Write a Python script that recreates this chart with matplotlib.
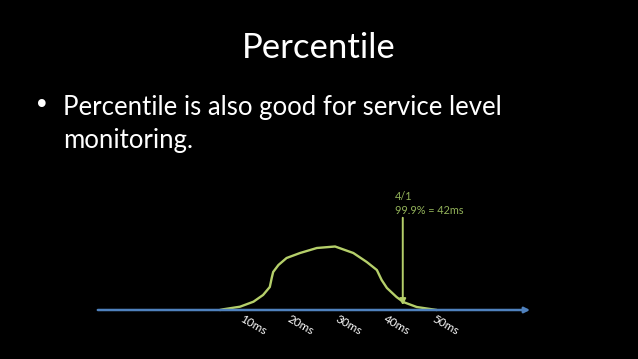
import matplotlib.pyplot as plt

# Datos
tick_ms = [10, 20, 30, 40, 50]
tick_labels = ["10ms", "20ms", "30ms", "40ms", "50ms"]

curve_ms = [3.1, 3.8, 7.3, 10.1, 12.1, 13.5, 13.9, 14.2, 15.3, 17.0, 19.8, 23.3, 27.1,
            30.9, 33.7, 35.8, 36.8, 37.9, 39.9, 41.3, 44.1, 46.9, 48.3]
curve_h = [0, 0.7, 3.3, 8.3, 15, 23, 32, 38, 45, 52, 57, 62, 63.5,
           57, 48, 40, 30, 22, 13, 8, 3, 1, 0]

p999_ms = 42
p999_date = "4/1"

axis_start, axis_end = -22.9, 68.3

fig = plt.figure(figsize=(6.38, 3.59), dpi=100, facecolor="black")
ax = fig.add_axes([0, 0, 1, 1])
ax.set_facecolor("black")
ax.set_xlim(-42.7, 90.2)
ax.set_ylim(-49, 310)
ax.axis("off")

font = ["Lato", "DejaVu Sans"]

# Titulo y texto
ax.text(0.5, 0.838, "Percentile", transform=ax.transAxes, ha="center", va="baseline",
        color="white", fontsize=25, family=font)
ax.text(0.0658, 0.7056, "\u2022", transform=ax.transAxes, ha="center", va="center",
        color="white", fontsize=19, family="DejaVu Sans")
ax.text(0.099, 0.681, "Percentile is also good for service level", transform=ax.transAxes,
        ha="left", va="baseline", color="white", fontsize=18.5, family=font)
ax.text(0.099, 0.5877, "monitoring.", transform=ax.transAxes,
        ha="left", va="baseline", color="white", fontsize=18.5, family=font)

# Eje horizontal con flecha
ax.annotate("", xy=(axis_end, 0), xytext=(axis_start, 0),
            arrowprops=dict(arrowstyle="-|>", color="#4f81bd", lw=1.8, mutation_scale=8))

# Curva de distribucion
ax.plot(curve_ms, curve_h, color="#b5cf6a", lw=1.7, solid_capstyle="round",
        solid_joinstyle="round")

# Etiquetas del eje
for ms, lab in zip(tick_ms, tick_labels):
    ax.text(ms, -15, lab, ha="center", va="center", rotation=-30,
            color="white", fontsize=8.5, family=font)

# Flecha del percentil 99.9
ax.annotate("", xy=(p999_ms - 0.8, 2), xytext=(p999_ms - 0.8, 95),
            arrowprops=dict(arrowstyle="-|>", color="#b5cf6a", lw=1.4, mutation_scale=9))
ax.text(p999_ms - 2.4, 113.5, p999_date, ha="left", va="center", color="#93b35a",
        fontsize=7.8, family=font)
ax.text(p999_ms - 2.4, 99.5, "99.9%% = %dms" % p999_ms, ha="left", va="center",
        color="#93b35a", fontsize=7.8, family=font)

fig.savefig("out.png", dpi=100, facecolor="black")
